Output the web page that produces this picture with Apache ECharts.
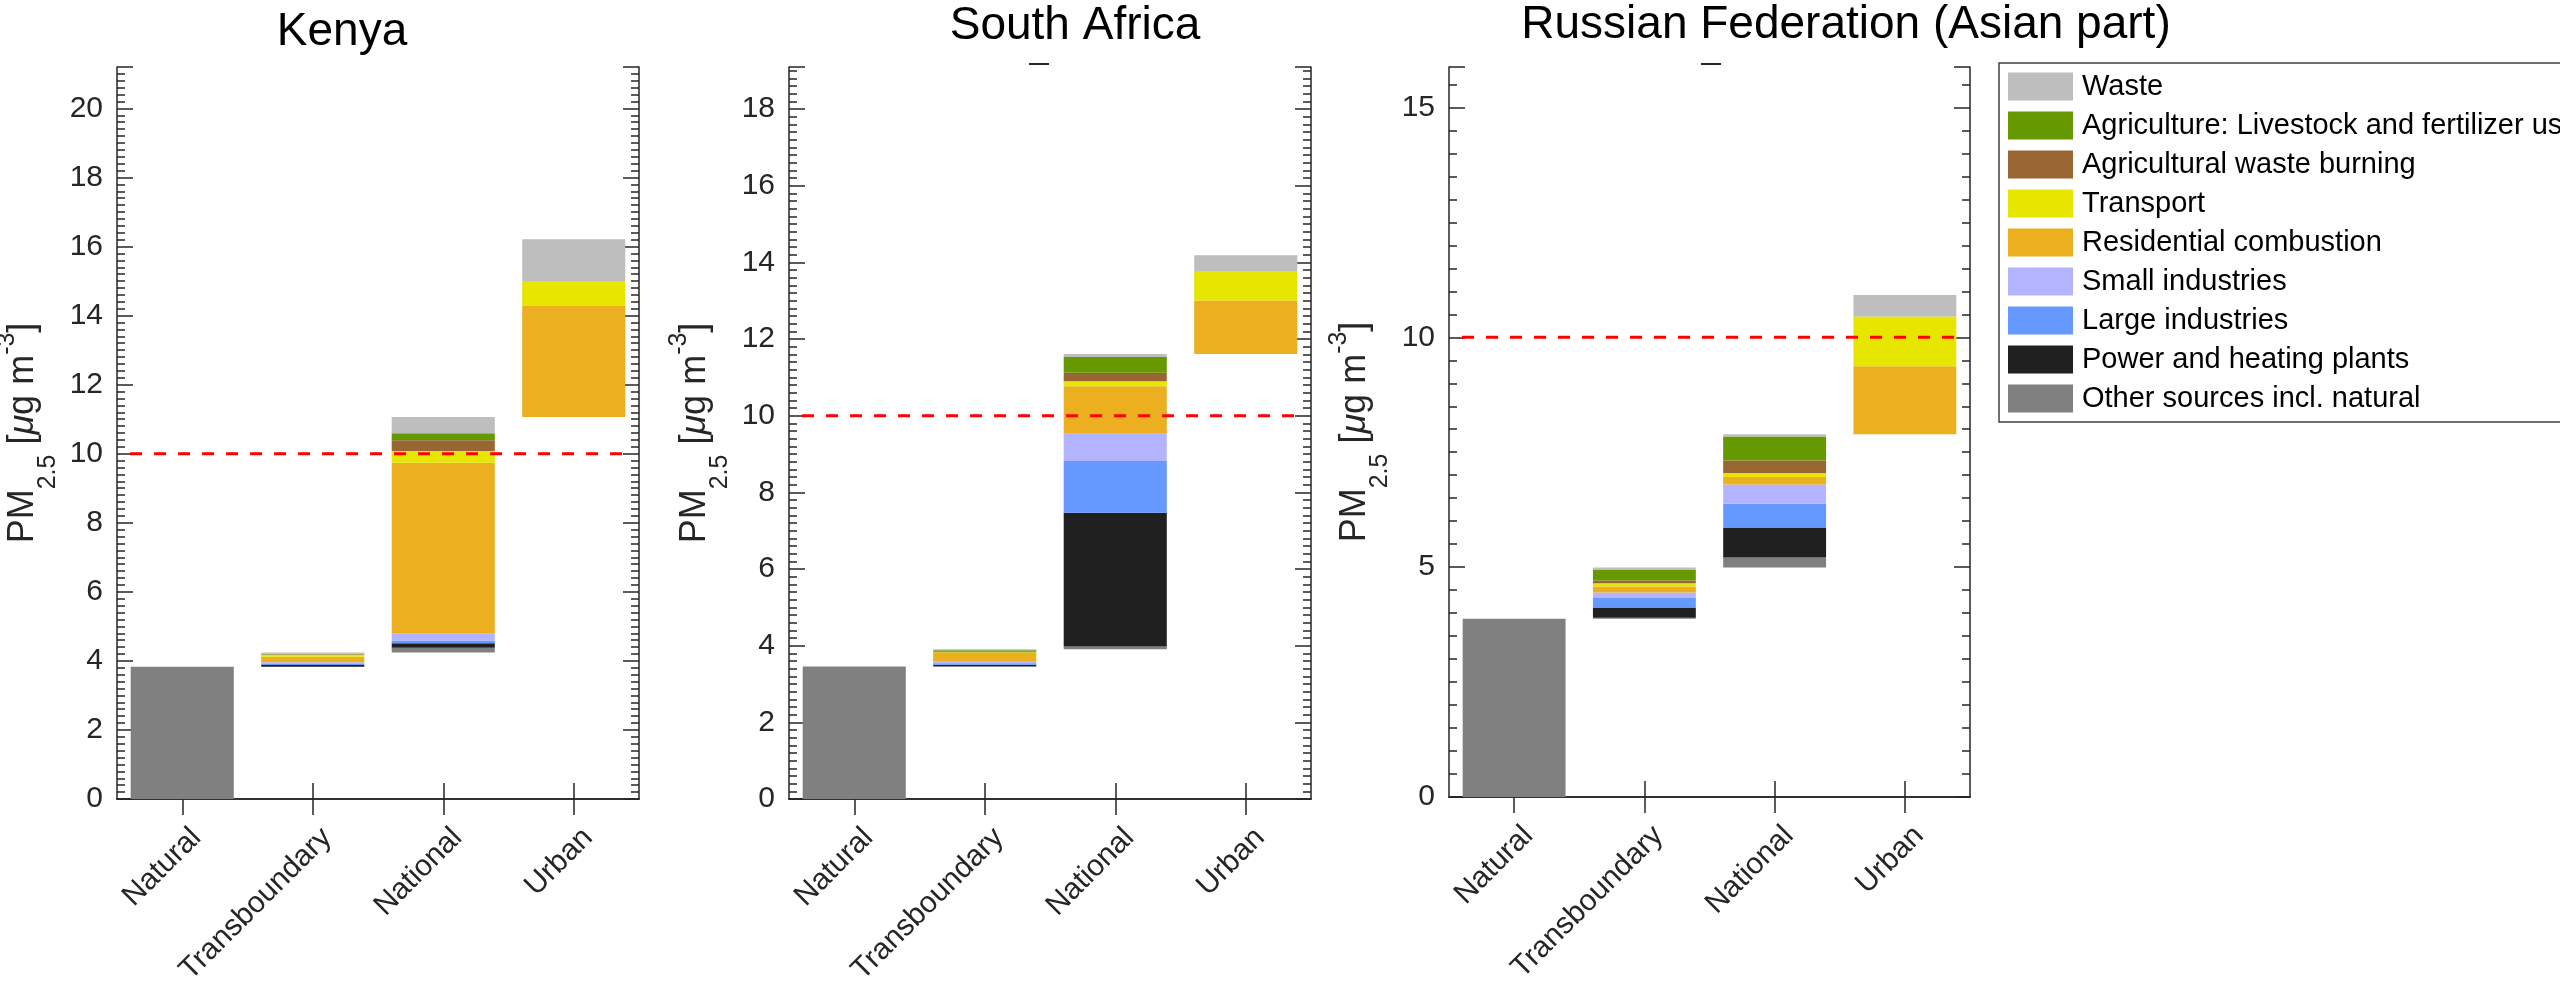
<!DOCTYPE html>
<html>
<head>
<meta charset="utf-8">
<script src="https://cdn.jsdelivr.net/npm/echarts@6/dist/echarts.min.js"></script>
<style>
html,body{margin:0;padding:0;background:#fff;}
#chart{width:2560px;height:982px;}
</style>
</head>
<body>
<div id="chart"></div>
<script>
// ---------- DATA ----------
const categories = ['Natural', 'Transboundary', 'National', 'Urban'];
const countries = ['Kenya', 'South Africa', 'Russian Federation (Asian part)'];

// stacking order bottom -> top
const sourceNames = [
  'Other sources incl. natural',
  'Power and heating plants',
  'Large industries',
  'Small industries',
  'Residential combustion',
  'Transport',
  'Agricultural waste burning',
  'Agriculture: Livestock and fertilizer use',
  'Waste'
];
const sourceColors = ['#808080', '#202020', '#6699FF', '#B3B3FF', '#EBAF20', '#E6E600', '#996633', '#669900', '#BEBEBE'];

// Kenya [Natural, Transboundary, National, Urban]
const kenyaOther       = [3.83, 0.00, 0.14, 0.00];
const kenyaPower       = [0.00, 0.05, 0.13, 0.00];
const kenyaLarge       = [0.00, 0.03, 0.08, 0.00];
const kenyaSmall       = [0.00, 0.05, 0.21, 0.00];
const kenyaResidential = [0.00, 0.16, 4.94, 3.22];
const kenyaTransport   = [0.00, 0.06, 0.34, 0.70];
const kenyaAgBurning   = [0.00, 0.01, 0.31, 0.00];
const kenyaAgriculture = [0.00, 0.02, 0.20, 0.00];
const kenyaWaste       = [0.00, 0.03, 0.47, 1.23];

// South Africa
const safOther       = [3.46, 0.00, 0.07, 0.00];
const safPower       = [0.00, 0.04, 3.49, 0.00];
const safLarge       = [0.00, 0.04, 1.35, 0.00];
const safSmall       = [0.00, 0.06, 0.71, 0.00];
const safResidential = [0.00, 0.21, 1.24, 1.40];
const safTransport   = [0.00, 0.02, 0.13, 0.77];
const safAgBurning   = [0.00, 0.01, 0.22, 0.00];
const safAgriculture = [0.00, 0.04, 0.41, 0.00];
const safWaste       = [0.00, 0.03, 0.08, 0.41];

// Russian Federation (Asian part)
const rusOther       = [3.88, 0.02, 0.22, 0.00];
const rusPower       = [0.00, 0.22, 0.65, 0.00];
const rusLarge       = [0.00, 0.21, 0.52, 0.00];
const rusSmall       = [0.00, 0.12, 0.42, 0.00];
const rusResidential = [0.00, 0.13, 0.16, 1.48];
const rusTransport   = [0.00, 0.07, 0.09, 1.08];
const rusAgBurning   = [0.00, 0.06, 0.27, 0.00];
const rusAgriculture = [0.00, 0.23, 0.52, 0.00];
const rusWaste       = [0.00, 0.05, 0.05, 0.47];

// y axis settings (tick labels every interval)
const yMax = [21.2, 19.1, 15.88];
const yInterval = [2, 2, 5];

// WHO guideline line
const guidelineValue = 10;
const guidelineX = [0.6, 4.4];

// ---------- BUILD ----------
const countryData = [
  [kenyaOther, kenyaPower, kenyaLarge, kenyaSmall, kenyaResidential, kenyaTransport, kenyaAgBurning, kenyaAgriculture, kenyaWaste],
  [safOther, safPower, safLarge, safSmall, safResidential, safTransport, safAgBurning, safAgriculture, safWaste],
  [rusOther, rusPower, rusLarge, rusSmall, rusResidential, rusTransport, rusAgBurning, rusAgriculture, rusWaste]
];

const gridBoxes = [
  {left: 117, top: 67, width: 522, height: 732},
  {left: 789, top: 67, width: 522, height: 732},
  {left: 1449, top: 67, width: 521, height: 730}
];
const titlePos = [{x: 342, y: 9}, {x: 1075, y: 3}, {x: 1846, y: 2}];

const axisColor = '#262626';
const FONT = '"Liberation Sans", Arial, Helvetica, sans-serif';

const grids = [], xAxes = [], yAxes = [], series = [], titles = [];

countryData.forEach((data, g) => {
  grids.push(Object.assign({outerBoundsMode: 'none', containLabel: false}, gridBoxes[g]));
  titles.push({
    text: countries[g], left: titlePos[g].x, top: titlePos[g].y, textAlign: 'center', padding: 0,
    textStyle: {fontSize: 46, fontWeight: 'normal', color: '#000', fontFamily: FONT}
  });
  const lineStyle = {color: axisColor, width: 1.5};
  // bottom category axis
  xAxes.push({
    gridIndex: g, type: 'category', data: categories, position: 'bottom',
    axisLine: {show: true, lineStyle},
    axisTick: {show: true, inside: true, alignWithLabel: true, length: 16, lineStyle},
    axisLabel: {
      show: true, interval: 0, rotate: 45, margin: 20, align: 'right', verticalAlign: 'top',
      lineHeight: 30, padding: [5, 0, 0, 0],
      fontSize: 30, color: axisColor, fontFamily: FONT
    },
    splitLine: {show: false}
  });
  // top mirrored category axis
  xAxes.push({
    gridIndex: g, type: 'category', data: categories, position: 'top',
    axisLine: {show: true, lineStyle},
    axisTick: {show: true, inside: true, alignWithLabel: true, length: 16, lineStyle},
    axisLabel: {show: false}, splitLine: {show: false}
  });
  // hidden value axis for the guideline
  xAxes.push({gridIndex: g, type: 'value', min: 0.5, max: 4.5, show: false});

  const iv = yInterval[g];
  const commonY = {
    gridIndex: g, type: 'value', min: 0, max: yMax[g], interval: iv,
    axisLine: {show: true, lineStyle},
    axisTick: {show: true, inside: true, length: 16, lineStyle},
    minorTick: {show: true, splitNumber: 10, length: 8, lineStyle},
    splitLine: {show: false}, minorSplitLine: {show: false}
  };
  yAxes.push(Object.assign({}, commonY, {
    position: 'left',
    axisLabel: {
      show: true, fontSize: 30, color: axisColor, margin: 14, fontFamily: FONT,
      formatter: v => (Math.abs(v / iv - Math.round(v / iv)) < 1e-6 ? String(Math.round(v)) : '')
    },
    name: '{m|PM}{s|2.5}{m| [}{i|\u03bc}{m|g m}{p|-3}{m|]}',
    nameLocation: 'middle', nameRotate: 90, nameGap: 56, nameMoveOverlap: false,
    nameTextStyle: {
      color: axisColor, fontFamily: FONT,
      rich: {
        m: {fontSize: 36, color: axisColor, fontFamily: FONT, verticalAlign: 'top', padding: [18, 0, 0, 0]},
        i: {fontSize: 36, color: axisColor, fontFamily: FONT, fontStyle: 'italic', verticalAlign: 'top', padding: [18, 0, 0, 0]},
        s: {fontSize: 25, color: axisColor, fontFamily: FONT, verticalAlign: 'top', padding: [49, 0, 0, 0]},
        p: {fontSize: 25, color: axisColor, fontFamily: FONT, verticalAlign: 'top', padding: [8, 0, 0, 0]}
      }
    }
  }));
  yAxes.push(Object.assign({}, commonY, {position: 'right', axisLabel: {show: false}}));

  // waterfall base: cumulative total of previous categories
  const totals = categories.map((c, ci) => data.reduce((s, arr) => s + arr[ci], 0));
  const base = categories.map((c, ci) => totals.slice(0, ci).reduce((s, v) => s + v, 0));
  series.push({
    type: 'bar', name: '_base' + g, stack: 'st' + g, xAxisIndex: 3 * g, yAxisIndex: 2 * g,
    data: base, barWidth: '79%', itemStyle: {color: 'rgba(0,0,0,0)'}, silent: true
  });
  data.forEach((arr, si) => {
    series.push({
      type: 'bar', name: sourceNames[si], stack: 'st' + g, xAxisIndex: 3 * g, yAxisIndex: 2 * g,
      data: arr, barWidth: '79%', itemStyle: {color: sourceColors[si]}, silent: true
    });
  });
  series.push({
    type: 'line', name: '_guide' + g, xAxisIndex: 3 * g + 2, yAxisIndex: 2 * g,
    data: guidelineX.map(x => [x, guidelineValue]),
    symbol: 'none', silent: true, z: 10,
    lineStyle: {color: '#FF0000', width: 3, type: [12, 12]}
  });
});

const legendOrder = sourceNames.slice().reverse();

const option = {
  animation: false,
  backgroundColor: '#ffffff',
  textStyle: {fontFamily: FONT},
  title: titles,
  grid: grids,
  xAxis: xAxes,
  yAxis: yAxes,
  legend: {
    orient: 'vertical', left: 1999, top: 63, padding: [9, 30, 9, 9],
    itemWidth: 65, itemHeight: 28, itemGap: 10, icon: 'rect',
    borderColor: '#404040', borderWidth: 1.5, selectedMode: false,
    textStyle: {fontSize: 29, color: '#000', fontFamily: FONT, lineHeight: 28, padding: [0, 0, 0, 4]},
    data: legendOrder
  },
  graphic: [
    {type: 'rect', z: 100, shape: {x: 261, y: 65, width: 226, height: 4}, style: {fill: '#ffffff'}},
    {type: 'line', z: 100, shape: {x1: 1029, y1: 64, x2: 1049, y2: 64}, style: {stroke: '#262626', lineWidth: 2}},
    {type: 'line', z: 100, shape: {x1: 1701, y1: 64, x2: 1721, y2: 64}, style: {stroke: '#262626', lineWidth: 2}}
  ],
  series: series
};

const chart = echarts.init(document.getElementById('chart'), null, {renderer: 'canvas', width: 2560, height: 982});
chart.setOption(option);
</script>
</body>
</html>
